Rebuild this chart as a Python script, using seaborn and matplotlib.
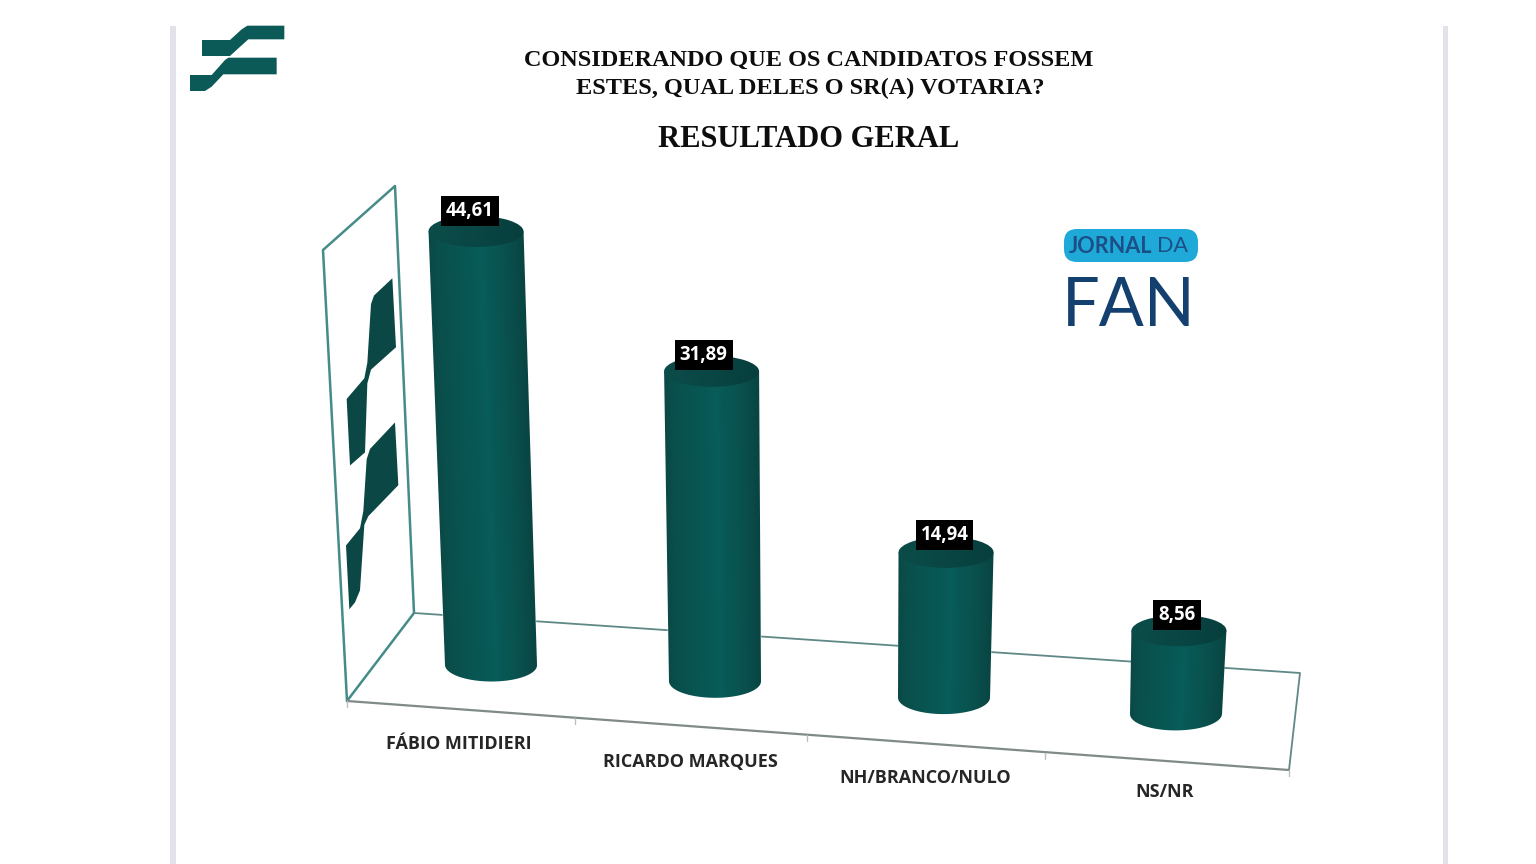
import numpy as np
import pandas as pd
import matplotlib
matplotlib.use("Agg")
import matplotlib.pyplot as plt
from matplotlib.colors import LinearSegmentedColormap
from matplotlib.patches import Polygon, Ellipse, FancyBboxPatch, Rectangle
from matplotlib.transforms import Affine2D
import seaborn as sns

# ---- data ----
categories = ["FÁBIO MITIDIERI", "RICARDO MARQUES", "NH/BRANCO/NULO", "NS/NR"]
values = [44.61, 31.89, 14.94, 8.56]
value_labels = ["44,61", "31,89", "14,94", "8,56"]
title_lines = ["CONSIDERANDO QUE OS CANDIDATOS FOSSEM", "ESTES, QUAL DELES O SR(A) VOTARIA?"]
subtitle = "RESULTADO GERAL"

# ---- layout constants (pixels) ----
W, H = 1536, 864
X0, Y0 = 491, 665          # pixel of category 0, value 0
PX_CAT, PX_VAL = 229.6, 9.72
FLOOR_DROP = 16.3          # each column stands this many px lower than the previous
X_NUDGE = [0, -5.6, -6.2, -3.8]         # perspective spacing
LEAN = [-0.0345, -0.011, 0.014, 0.035]  # perspective lean of each column
TOP_A, TOP_B, BOT_A, BOT_B = 47.5, 15.5, 46, 16.5
LABEL_OFF = [(-32, -79), (-25, -81), (-19, -80), (-11, -78)]
VALUE_OFF = [(-6, 20), (-8, 16), (-1.5, 17), (-2, 16)]
TEAL = "#0a5856"

sns.set_theme(style="white")
fig = plt.figure(figsize=(W / 100, H / 100), dpi=100, facecolor="white")

# decoration layer in pixel coordinates
bg = fig.add_axes([0, 0, 1, 1], zorder=0)
bg.set_xlim(0, W)
bg.set_ylim(H, 0)
bg.axis("off")

for x, w in [(170, 6), (1443, 5)]:
    bg.add_patch(Rectangle((x, 26), w, H - 26, color="#e2e2ea", lw=0))

# floor and wall of the 3D chart
wall_c, floor_c, front_c = "#458c88", "#5f8886", "#7f8a89"
bg.plot([347, 323, 395, 414, 347], [701, 250, 186, 613, 701], color=wall_c, lw=1.8, solid_joinstyle="round")
bg.plot([414, 1300, 1289], [613, 673, 770], color=floor_c, lw=1.3)
bg.plot([347, 1289], [701, 770], color=front_c, lw=1.6)
for tx, ty in [(347, 701), (575, 718), (807, 735), (1045, 753), (1289, 770)]:
    bg.plot([tx, tx], [ty, ty + 6], color="#b8bfbe", lw=1)

# logo on the wall (zoom coordinates -> px)
def wall_pts(p):
    return [(310 + a / 3, 180 + b / 2.9) for a, b in p]
wall_logo = "#0a4745"
bg.add_patch(Polygon(wall_pts([(247, 285), (192, 335), (183, 360), (172, 530), (163, 575), (110, 635),
                               (120, 828), (165, 790), (172, 590), (183, 550), (258, 485)]), color=wall_logo, lw=0))
bg.add_patch(Polygon(wall_pts([(255, 703), (180, 780), (170, 810), (160, 960), (150, 1010), (108, 1060),
                               (118, 1245), (135, 1225), (150, 1190), (163, 1000), (175, 975), (265, 885)]),
                     color=wall_logo, lw=0))

# corner logo
def top_pts(p):
    return [(170 + a / 3, 20 + b / 3) for a, b in p]
logo_c = "#0c5a57"
bg.add_patch(Polygon(top_pts([(232, 17), (343, 17), (343, 58), (235, 58), (205, 85), (180, 108),
                              (96, 108), (96, 60), (180, 60), (215, 28)]), color=logo_c, lw=0))
bg.add_patch(Polygon(top_pts([(175, 113), (320, 113), (320, 163), (160, 163), (125, 200), (105, 213),
                              (60, 213), (60, 165), (125, 165), (165, 120)]), color=logo_c, lw=0))

# titles
bg.text(808.5, 60, title_lines[0], family="Liberation Serif", weight="bold", fontsize=17.5, color="#0d0d0d", ha="center", va="center")
bg.text(810.5, 88.5, title_lines[1], family="Liberation Serif", weight="bold", fontsize=17.5, color="#0d0d0d", ha="center", va="center")
bg.text(808.5, 139.5, subtitle, family="Liberation Serif", weight="bold", fontsize=22, color="#0d0d0d", ha="center", va="center")

# Jornal da FAN logo
bg.add_patch(FancyBboxPatch((1064, 229), 134, 33, boxstyle="round,pad=0,rounding_size=13",
                            fc="#1fa9d8", ec="none", lw=0))
bg.text(1069, 246.5, "JORNAL", family="Lato", weight="bold", fontsize=15.6, color="#1b4f86", ha="left", va="center")
bg.text(1188, 246.5, "DA", family="Lato", fontsize=15.6, color="#1b4f86", ha="right", va="center")
bg.text(1129, 326, "FAN", family="Lato", fontsize=48, color="#14406f", ha="center", va="baseline")

# chart layer: full-figure axes, categories and values mapped by the library
ax = fig.add_axes([0, 0, 1, 1], zorder=1)
df = pd.DataFrame({"category": categories, "value": values})
sns.barplot(data=df, x="category", y="value", color=TEAL, saturation=1, width=2 * BOT_A / PX_CAT, ax=ax)
ax.axis("off")
ax.patch.set_alpha(0)
bars = list(ax.patches)

body_cmap = LinearSegmentedColormap.from_list("body", [(0, "#0a4644"), (0.12, "#0a4f4c"), (0.35, "#085653"),
                                                       (0.55, "#075c59"), (0.8, "#0a504d"), (1, "#084240")])
cap_cmap = LinearSegmentedColormap.from_list("cap", [(0, "#0b4d4a"), (0.5, "#094644"), (1, "#073e3c")])
grad = np.linspace(0, 1, 256)[None, :]

for i, (bar, val, lean) in enumerate(zip(bars, values, LEAN)):
    xc = bar.get_x() + bar.get_width() / 2
    h = bar.get_height()
    shear = Affine2D(np.array([[1, lean * PX_VAL / PX_CAT, 0], [0, 1, 0], [0, 0, 1]], dtype=float))
    shift = Affine2D().translate(X_NUDGE[i], -FLOOR_DROP * i)
    T = shear + ax.transData + shift
    bar.set_transform(T)
    at, ab = TOP_A / PX_CAT, BOT_A / PX_CAT
    bb, tb = BOT_B / PX_VAL, TOP_B / PX_VAL
    mx, my = 3 / PX_CAT, 3 / PX_VAL   # image margin, so that only the clip path shapes the edge
    th = np.linspace(0, np.pi, 60)
    arc = np.c_[xc + ab * np.cos(th), -bb * np.sin(th)]
    body = Polygon(np.vstack([[xc - at, h], [xc + at, h], arc]), transform=T)
    ax.imshow(grad, cmap=body_cmap, extent=(xc - at - mx, xc + at + mx, -bb - my, h + my), aspect="auto", transform=T,
              interpolation="bilinear", zorder=3).set_clip_path(body)
    cap = Ellipse((xc, h), 2 * at, 2 * tb, transform=T)
    ax.imshow(grad, cmap=cap_cmap, extent=(xc - at - mx, xc + at + mx, h - tb - my, h + tb + my), aspect="auto", transform=T,
              interpolation="bilinear", zorder=4).set_clip_path(cap)
    dx, dy = VALUE_OFF[i]
    ax.annotate(value_labels[i], xy=(xc, h), xycoords=T, xytext=(dx, dy), textcoords="offset pixels",
                ha="center", va="center", family="Open Sans", weight="bold", fontsize=13.4, color="white", zorder=6,
                bbox=dict(boxstyle="square,pad=0.27", fc="black", ec="black", lw=0))
    lx, ly = LABEL_OFF[i]
    ax.annotate(categories[i], xy=(xc, 0), xycoords=ax.transData + shift, xytext=(lx, ly), textcoords="offset pixels",
                ha="center", va="center", family="Open Sans", weight="bold", fontsize=13, color="#262626", zorder=6)

ax.set_xlim(-X0 / PX_CAT, (W - X0) / PX_CAT)
ax.set_ylim(-(H - Y0) / PX_VAL, Y0 / PX_VAL)

fig.savefig("out.png", dpi=100, facecolor="white")
